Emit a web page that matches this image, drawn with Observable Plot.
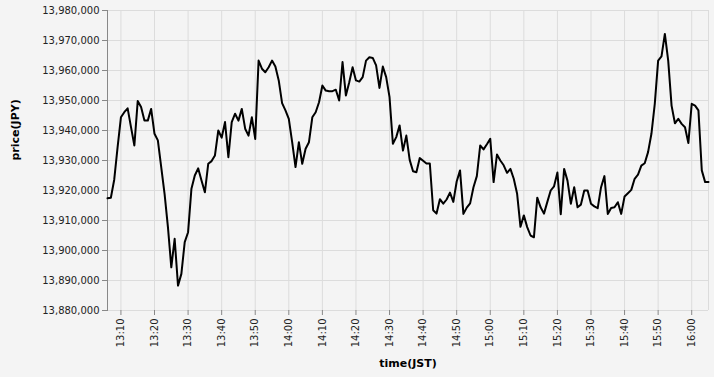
<!DOCTYPE html>
<html>
<head>
<meta charset="utf-8">
<script src="https://cdn.jsdelivr.net/npm/d3@7"></script>
<script src="https://cdn.jsdelivr.net/npm/@observablehq/plot@0.6"></script>
<style>
  html, body { margin: 0; padding: 0; background: #f4f4f4; }
  #chart { width: 714px; height: 377px; }
</style>
</head>
<body>
<div id="chart"></div>
<script>
// First bar time (JST) and one-minute bar closing prices (JPY)
const startTime = "13:06";
const prices = [
  13917400, 13917600, 13923600, 13934400, 13944400, 13946100, 13947400, 13941100, 13935000, 13949800,
  13947800, 13943300, 13943300, 13947200, 13938900, 13936700, 13927800, 13918900, 13907800, 13894400,
  13903900, 13888300, 13892200, 13902800, 13906100, 13920600, 13925000, 13927400, 13923300, 13919400,
  13928900, 13929800, 13931700, 13940000, 13937600, 13942800, 13931100, 13942800, 13945600, 13943300,
  13947200, 13940600, 13938300, 13944400, 13937200, 13963300, 13960600, 13959400, 13961100, 13963300,
  13961300, 13956700, 13949100, 13946700,
  13943900, 13936100, 13927800, 13936100, 13928900, 13933900, 13936100, 13944400, 13946100, 13949400,
  13955000, 13953300, 13953100, 13953100, 13953600, 13950000, 13962800, 13951700, 13956100, 13961100,
  13956700, 13956300, 13957800, 13963300, 13964400, 13964200, 13961700, 13954200, 13961300, 13957800,
  13951100, 13935600, 13937800, 13941700, 13933300, 13938300, 13930200, 13926400, 13926100, 13930800,
  13929900, 13929000, 13929000, 13913400, 13912300, 13917100, 13915600, 13917000, 13919300, 13916200,
  13923000, 13926700, 13912200, 13914300, 13915700, 13921100, 13924800, 13935000, 13933700, 13935400,
  13937200, 13922800, 13932000, 13930000, 13928400, 13925900, 13927200, 13923900, 13918900, 13907900,
  13911700, 13907800, 13905000, 13904400, 13917600, 13914400, 13912300, 13916200, 13920000, 13921400,
  13926000, 13912100, 13927200, 13923300, 13915600, 13921100, 13914400, 13915300, 13920000, 13920000,
  13915600, 13914700, 13914100, 13921100, 13924800, 13912200, 13914200, 13914400, 13916100, 13912200,
  13918000, 13919100, 13920200, 13923900, 13925300, 13928300, 13929100, 13932800, 13938900, 13948900,
  13963300, 13964700, 13972200, 13963300, 13948300, 13942400, 13943900, 13942200, 13941100, 13935800,
  13948900, 13948300, 13946700, 13926700, 13922800, 13922800
];
const xTickLabels = ["13:10","13:20","13:30","13:40","13:50","14:00","14:10","14:20","14:30",
                     "14:40","14:50","15:00","15:10","15:20","15:30","15:40","15:50","16:00"];
const yTickValues = [13880000, 13890000, 13900000, 13910000, 13920000, 13930000,
                     13940000, 13950000, 13960000, 13970000, 13980000];
const xTitle = "time(JST)";
const yTitle = "price(JPY)";

function toDate(hhmm) {
  const [h, m] = hhmm.split(":").map(Number);
  return new Date(Date.UTC(2024, 0, 1, h, m));
}
const t0 = toDate(startTime);
const data = prices.map((p, i) => ({time: new Date(t0.getTime() + i * 60000), price: p}));
const xTicks = xTickLabels.map(toDate);
const fmtComma = d3.format(",");

const chart = Plot.plot({
  width: 714,
  height: 377,
  marginLeft: 107,
  marginRight: 6,
  marginTop: 10,
  marginBottom: 67,
  style: {background: "#f4f4f4", fontFamily: "DejaVu Sans, sans-serif", fontSize: "10px", color: "#222"},
  x: {type: "utc", domain: [data[0].time, data[data.length - 1].time]},
  y: {domain: [yTickValues[0], yTickValues[yTickValues.length - 1]]},
  marks: [
    Plot.gridY(yTickValues, {stroke: "#dcdcdc", strokeOpacity: 1}),
    Plot.gridX(xTicks, {stroke: "#dcdcdc", strokeOpacity: 1}),
    Plot.ruleX([data[data.length - 1].time], {stroke: "#dcdcdc"}),
    Plot.axisY({ticks: yTickValues, tickFormat: fmtComma, tickSize: 5, tickPadding: 3, stroke: "#888", label: null, fontSize: 10}),
    Plot.axisX({ticks: xTicks, tickFormat: d3.utcFormat("%H:%M"), tickRotate: -90, tickSize: 5, tickPadding: 3, stroke: "#888", label: null, fontSize: 10}),
    Plot.frame({anchor: "left", stroke: "#888"}),
    Plot.line(data, {x: "time", y: "price", stroke: "#000", strokeWidth: 2}),
    Plot.text([xTitle], {frameAnchor: "bottom", dy: 56, fontWeight: "bold", fontSize: 11, fill: "#000"}),
    Plot.text([yTitle], {frameAnchor: "left", dx: -92, rotate: -90, fontWeight: "bold", fontSize: 11, fill: "#000"})
  ]
});
document.getElementById("chart").appendChild(chart);
</script>
</body>
</html>
